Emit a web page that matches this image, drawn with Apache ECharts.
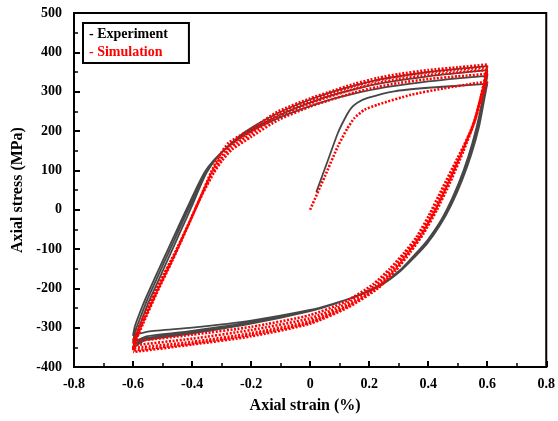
<!DOCTYPE html>
<html>
<head>
<meta charset="utf-8">
<script src="https://cdn.jsdelivr.net/npm/echarts@6/dist/echarts.min.js"></script>
<style>
  html, body { margin: 0; padding: 0; background: #fff; }
  #chart { width: 558px; height: 421px; }
</style>
</head>
<body>
<div id="chart"></div>
<script>
// axis ticks
const xTicks = { min: -0.8, max: 0.8, step: 0.2 };
const yTicks = { min: -400, max: 500, step: 100 };

// experiment: first loading, then the cycles (strain %, stress MPa)
const expLoad  = [[0.021,45],[0.06,125],[0.094,195],[0.12,235],[0.139,258],[0.16,272],[0.195,284],[0.285,301],[0.4,310],[0.5,315],[0.6,320]];
const expDown1 = [[0.6,320],[0.59,280],[0.572,210],[0.546,140],[0.515,75],[0.48,15],[0.44,-40],[0.395,-88],[0.355,-120],[0.305,-157],[0.245,-190],[0.165,-218],[0.075,-240],[0,-255],[-0.2,-282],[-0.4,-300],[-0.55,-310],[-0.6,-320]];
const expUp1   = [[-0.6,-320],[-0.594,-297],[-0.58,-268],[-0.557,-225],[-0.527,-175],[-0.497,-126],[-0.467,-77],[-0.437,-28],[-0.407,20],[-0.382,60],[-0.357,96],[-0.326,126],[-0.286,155],[-0.222,190],[-0.11,232],[0,263],[0.1,286],[0.23,308],[0.4,326],[0.5,334],[0.6,340]];
const expDown2 = [[0.6,340],[0.591,298],[0.573,225],[0.548,155],[0.517,86],[0.482,24],[0.442,-33],[0.397,-82],[0.357,-116],[0.307,-154],[0.247,-188],[0.167,-217],[0.077,-240],[0,-256],[-0.2,-286],[-0.4,-308],[-0.555,-322],[-0.6,-338]];
const expUp2   = [[-0.6,-338],[-0.593,-311],[-0.578,-280],[-0.554,-233],[-0.524,-183],[-0.494,-133],[-0.464,-84],[-0.434,-34],[-0.404,15],[-0.379,57],[-0.354,96],[-0.323,127],[-0.283,158],[-0.221,194],[-0.11,238],[0,272],[0.1,296],[0.23,320],[0.4,339],[0.5,347],[0.6,355]];
const expDown3 = [[0.6,355],[0.592,311],[0.574,237],[0.549,164],[0.519,95],[0.484,31],[0.444,-28],[0.399,-78],[0.359,-113],[0.309,-152],[0.249,-186],[0.169,-216],[0.079,-240],[0,-257],[-0.2,-288],[-0.4,-312],[-0.56,-328],[-0.6,-348]];
const expUp3   = [[-0.6,-355],[-0.592,-325],[-0.575,-290],[-0.55,-240],[-0.52,-190],[-0.49,-140],[-0.46,-90],[-0.43,-40],[-0.4,10],[-0.375,55],[-0.35,95],[-0.32,128],[-0.28,160],[-0.22,198],[-0.11,245],[0,280],[0.1,305],[0.23,330],[0.4,350],[0.5,358],[0.6,365]];
const expDown4 = [[0.6,365],[0.592,320],[0.575,245],[0.55,170],[0.52,100],[0.485,35],[0.445,-25],[0.4,-75],[0.36,-110],[0.31,-150],[0.25,-185],[0.17,-215],[0.08,-240],[0,-258],[-0.2,-290],[-0.4,-315],[-0.56,-332],[-0.6,-352]];

// simulation: first loading, then the cycles
const simLoad  = [[0,0],[0.05,85],[0.094,161],[0.125,205],[0.15,233],[0.184,254],[0.229,267],[0.341,292],[0.45,308],[0.565,322],[0.6,325]];
const simDown1 = [[0.6,325],[0.582,280],[0.545,200],[0.495,125],[0.445,50],[0.402,-15],[0.36,-70],[0.318,-110],[0.27,-150],[0.213,-190],[0.116,-235],[0,-268],[-0.2,-298],[-0.4,-318],[-0.6,-335]];
const simUp1   = [[-0.6,-335],[-0.59,-315],[-0.558,-262],[-0.51,-185],[-0.455,-105],[-0.408,-30],[-0.366,38],[-0.326,94],[-0.298,125],[-0.266,152],[-0.2,185],[-0.108,228],[0,262],[0.06,277],[0.15,298],[0.229,312],[0.3,322],[0.4,332],[0.5,339],[0.6,345]];
const simDown2 = [[0.6,345],[0.584,298],[0.55,212],[0.503,135],[0.455,58],[0.412,-8],[0.368,-66],[0.325,-109],[0.277,-152],[0.219,-194],[0.121,-240],[0,-276],[-0.2,-306],[-0.4,-328],[-0.6,-345]];
const simUp2   = [[-0.6,-345],[-0.591,-325],[-0.561,-272],[-0.514,-195],[-0.46,-114],[-0.413,-38],[-0.371,32],[-0.33,93],[-0.302,128],[-0.27,158],[-0.2,193],[-0.108,237],[0,270],[0.06,286],[0.15,307],[0.229,322],[0.3,332],[0.4,342],[0.5,349],[0.6,355]];
const simDown3 = [[0.6,355],[0.586,308],[0.554,220],[0.511,142],[0.465,64],[0.421,-4],[0.377,-63],[0.332,-108],[0.283,-154],[0.224,-197],[0.125,-244],[0,-283],[-0.2,-314],[-0.4,-336],[-0.6,-352]];
const simUp3   = [[-0.6,-352],[-0.593,-333],[-0.564,-281],[-0.518,-205],[-0.464,-122],[-0.417,-45],[-0.375,26],[-0.334,92],[-0.306,131],[-0.273,163],[-0.2,199],[-0.108,244],[0,277],[0.06,292],[0.15,314],[0.229,329],[0.3,339],[0.4,349],[0.5,356],[0.6,362]];
const simDown4 = [[0.6,362],[0.587,314],[0.557,225],[0.516,146],[0.47,67],[0.426,-2],[0.381,-61],[0.336,-108],[0.287,-155],[0.227,-199],[0.128,-246],[0,-287],[-0.2,-318],[-0.4,-340],[-0.6,-358]];
const simUp4   = [[-0.6,-358],[-0.594,-340],[-0.566,-290],[-0.521,-214],[-0.467,-130],[-0.42,-52],[-0.378,20],[-0.337,93],[-0.309,135],[-0.276,170],[-0.2,205],[-0.108,250],[0,283],[0.06,298],[0.15,320],[0.229,335],[0.3,345],[0.4,355],[0.5,362],[0.6,369]];
const simDown5 = [[0.6,369],[0.588,320],[0.56,230],[0.52,150],[0.475,70],[0.43,0],[0.385,-60],[0.34,-108],[0.29,-155],[0.23,-200],[0.13,-248],[0,-290],[-0.2,-322],[-0.4,-343],[-0.6,-362]];

const expPath = [].concat(expLoad, expDown1, expUp1, expDown2, expUp2, expDown3, expUp3, expDown4);
const simPath = [].concat(simLoad, simDown1, simUp1, simDown2, simUp2, simDown3, simUp3, simDown4, simUp4, simDown5);

const serif = 'Liberation Serif';
const chart = echarts.init(document.getElementById('chart'));

function tickText(v) {
  return String(Math.round(v * 10) / 10);
}

chart.setOption({
  animation: false,
  backgroundColor: '#fff',
  grid: {
    left: 74, right: 8, top: 13, bottom: 54,
    show: true, borderColor: '#000', borderWidth: 2, backgroundColor: 'transparent'
  },
  legend: {
    left: 83, top: 23,
    orient: 'vertical',
    icon: 'none',
    itemWidth: 0, itemHeight: 14, itemGap: 2,
    padding: [3, 21, 3, 1],
    borderColor: '#000', borderWidth: 2,
    backgroundColor: '#fff',
    selectedMode: false,
    formatter: '- {name}',
    textStyle: { fontFamily: serif, fontWeight: 'bold', fontSize: 14, lineHeight: 16 },
    data: [
      { name: 'Experiment', textStyle: { color: '#000' } },
      { name: 'Simulation', textStyle: { color: '#ff0000' } }
    ]
  },
  xAxis: {
    type: 'value',
    min: xTicks.min, max: xTicks.max, interval: xTicks.step,
    name: 'Axial strain (%)',
    nameLocation: 'middle', nameGap: 31,
    nameTextStyle: { fontFamily: serif, fontWeight: 'bold', fontSize: 16, color: '#000', padding: [0, 10, 0, 0] },
    axisLine: { onZero: false, lineStyle: { color: '#000', width: 2 } },
    axisTick: { inside: true, length: 6, lineStyle: { color: '#000', width: 2 } },
    minorTick: { show: true, splitNumber: 2, length: 4, lineStyle: { color: '#000', width: 1.5 } },
    axisLabel: { margin: 10, fontFamily: serif, fontWeight: 'bold', fontSize: 14, color: '#000', formatter: tickText },
    splitLine: { show: false }
  },
  yAxis: {
    type: 'value',
    min: yTicks.min, max: yTicks.max, interval: yTicks.step,
    name: 'Axial stress (MPa)',
    nameLocation: 'middle', nameGap: 47,
    nameTextStyle: { fontFamily: serif, fontWeight: 'bold', fontSize: 16, color: '#000' },
    axisLine: { onZero: false, lineStyle: { color: '#000', width: 2 } },
    axisTick: { inside: true, length: 6, lineStyle: { color: '#000', width: 2 } },
    minorTick: { show: true, splitNumber: 2, length: 4, lineStyle: { color: '#000', width: 1.5 } },
    axisLabel: { margin: 12, fontFamily: serif, fontWeight: 'bold', fontSize: 14, color: '#000' },
    splitLine: { show: false }
  },
  series: [
    {
      name: 'Experiment',
      type: 'line',
      data: expPath,
      showSymbol: false,
      smooth: 0.2,
      color: '#000',
      lineStyle: { color: 'rgba(25,25,25,0.8)', width: 1.8 }
    },
    {
      name: 'Simulation',
      type: 'line',
      data: simPath,
      showSymbol: false,
      smooth: 0.2,
      color: '#ff0000',
      lineStyle: { color: '#ff0000', width: 2.6, type: [2, 1.6] }
    }
  ]
});
</script>
</body>
</html>
